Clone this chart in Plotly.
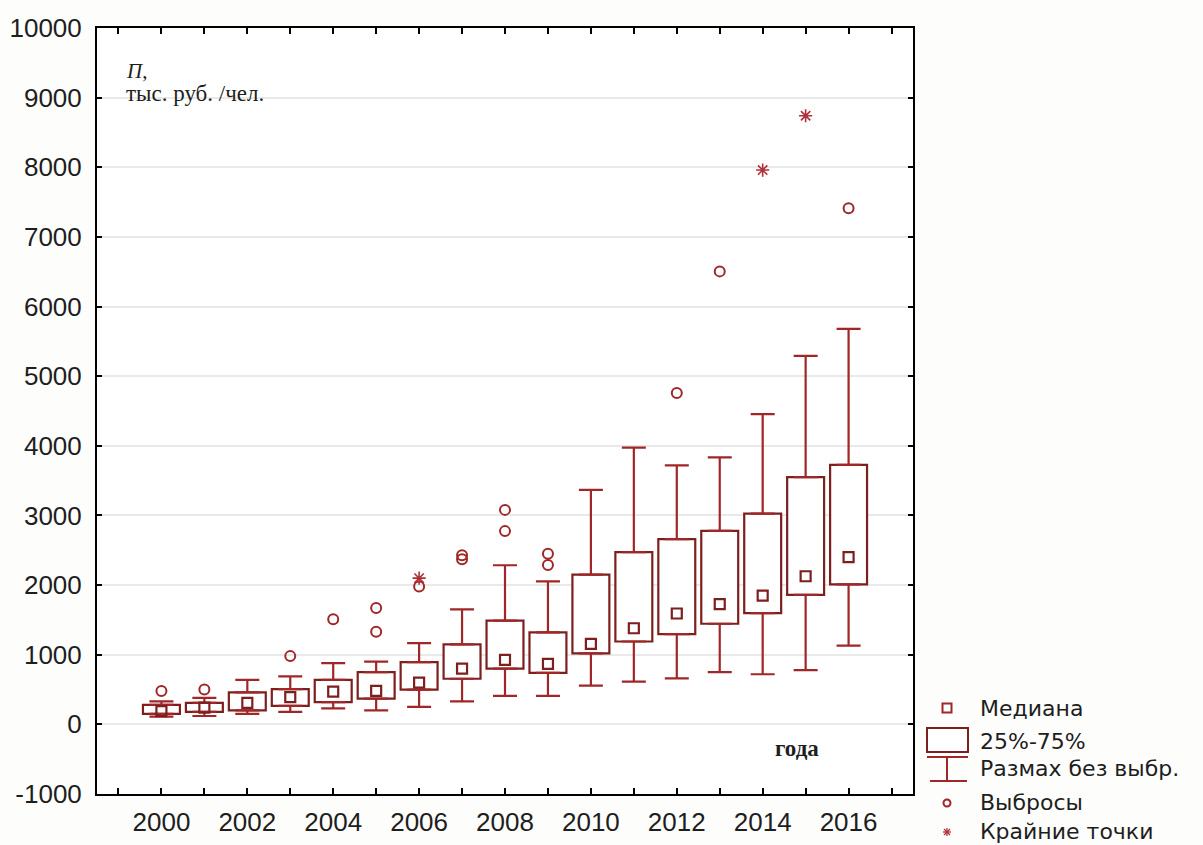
import plotly.graph_objects as go

# Box-plot statistics per year (thousand roubles per person)
years = list(range(2000, 2017))
whisker_low = [110, 120, 150, 180, 230, 200, 250, 330, 410, 410, 555, 615, 660, 750, 720, 780, 1130]
quart1 = [150, 180, 200, 265, 320, 370, 500, 655, 800, 740, 1020, 1190, 1295, 1445, 1598, 1860, 2010]
medians = [190, 240, 310, 390, 470, 480, 600, 800, 925, 870, 1155, 1380, 1592, 1728, 1850, 2127, 2402]
quart3 = [280, 310, 460, 505, 640, 750, 895, 1150, 1490, 1322, 2150, 2473, 2660, 2778, 3026, 3550, 3725]
whisker_high = [330, 380, 640, 690, 880, 900, 1168, 1650, 2285, 2052, 3366, 3973, 3720, 3834, 4455, 5292, 5680]

# Outliers and extreme points
outlier_years = [2000, 2001, 2003, 2004, 2005, 2005, 2006, 2007, 2007, 2008, 2008, 2009, 2009, 2012, 2013, 2016]
outlier_values = [480, 500, 980, 1510, 1670, 1330, 1980, 2430, 2370, 3080, 2775, 2450, 2290, 4757, 6505, 7410]
extreme_years = [2006, 2014, 2015]
extreme_values = [2100, 7960, 8740]

# Axis ticks
x_ticks = list(range(1999, 2018))
x_tick_labels = [str(y) if (y % 2 == 0 and 2000 <= y <= 2016) else "" for y in x_ticks]
y_ticks = list(range(-1000, 10001, 1000))
y_tick_labels = [str(v) for v in y_ticks]

legend_labels = ["Медиана", "25%-75%", "Размах без выбр.", "Выбросы", "Крайние точки"]

RED = "#a02628"
BOX_LINE = "#7e1f1f"
TEXT = "#1e1e1e"
NARROW = "Liberation Sans Narrow, Arial Narrow, Liberation Sans, sans-serif"
WIDE = "DejaVu Sans, Verdana, sans-serif"
SERIF = "Liberation Serif, Times New Roman, serif"

W, H = 1203, 845
L, R, T, B = 97, 290, 28, 51
PW, PH = W - L - R, H - T - B


def px(x):
    return (x - L) / PW


def py(y):
    return (H - B - y) / PH


fig = go.Figure()

# 25%-75% boxes
fig.add_trace(go.Bar(
    x=years,
    y=[q3 - q1 for q1, q3 in zip(quart1, quart3)],
    base=quart1,
    width=0.86,
    marker=dict(color="white", line=dict(color=BOX_LINE, width=2.2)),
    showlegend=False,
    hoverinfo="skip",
))

# Upper whiskers
fig.add_trace(go.Scatter(
    x=years, y=quart3, mode="markers",
    marker=dict(color="rgba(0,0,0,0)", size=1),
    error_y=dict(type="data", symmetric=False,
                 array=[h - q3 for h, q3 in zip(whisker_high, quart3)],
                 arrayminus=[0] * len(years),
                 width=12, thickness=2.2, color=RED),
    showlegend=False, hoverinfo="skip",
))

# Lower whiskers
fig.add_trace(go.Scatter(
    x=years, y=quart1, mode="markers",
    marker=dict(color="rgba(0,0,0,0)", size=1),
    error_y=dict(type="data", symmetric=False,
                 array=[0] * len(years),
                 arrayminus=[q1 - lo for q1, lo in zip(quart1, whisker_low)],
                 width=12, thickness=2.2, color=RED),
    showlegend=False, hoverinfo="skip",
))

# Medians
fig.add_trace(go.Scatter(
    x=years, y=medians, mode="markers",
    marker=dict(symbol="square-open", size=10, color=BOX_LINE, line=dict(width=2.2)),
    showlegend=False,
))

# Outliers
fig.add_trace(go.Scatter(
    x=outlier_years, y=outlier_values, mode="markers",
    marker=dict(symbol="circle-open", size=10, color=RED, line=dict(width=2)),
    showlegend=False,
))

# Extreme points
fig.add_trace(go.Scatter(
    x=extreme_years, y=extreme_values, mode="markers",
    marker=dict(symbol="asterisk-open", size=11, color="#b0303a", line=dict(width=1.6)),
    showlegend=False,
))

shapes = []
annotations = []

# Legend drawn beside the plot area
sym_x = 947
rows_y = [708, 741, 768, 803, 832]
# median square
shapes.append(dict(type="rect", xref="paper", yref="paper",
                   x0=px(sym_x - 4.5), x1=px(sym_x + 4.5), y0=py(rows_y[0] + 4.5), y1=py(rows_y[0] - 4.5),
                   line=dict(color=RED, width=2), fillcolor="white"))
# box
shapes.append(dict(type="rect", xref="paper", yref="paper",
                   x0=px(927), x1=px(968), y0=py(752), y1=py(728),
                   line=dict(color=BOX_LINE, width=2), fillcolor="white"))
# whisker
for x0, x1, y0, y1 in [(927, 968, 757, 757), (sym_x, sym_x, 757, 781), (930, 967, 781, 781)]:
    shapes.append(dict(type="line", xref="paper", yref="paper",
                       x0=px(x0), x1=px(x1), y0=py(y0), y1=py(y1),
                       line=dict(color=RED, width=2)))
# outlier circle
shapes.append(dict(type="circle", xref="paper", yref="paper",
                   x0=px(sym_x - 3.5), x1=px(sym_x + 3.5), y0=py(rows_y[3] + 3.5), y1=py(rows_y[3] - 3.5),
                   line=dict(color=RED, width=2)))
# asterisk
cx, cy, r = sym_x, rows_y[4], 4
for dx0, dy0, dx1, dy1 in [(-r, 0, r, 0), (0, -r, 0, r), (-3, -3, 3, 3), (-3, 3, 3, -3)]:
    shapes.append(dict(type="line", xref="paper", yref="paper",
                       x0=px(cx + dx0), x1=px(cx + dx1), y0=py(cy + dy0), y1=py(cy + dy1),
                       line=dict(color="#b0303a", width=1.3)))

for label, yy in zip(legend_labels, rows_y):
    annotations.append(dict(text=label, xref="paper", yref="paper",
                            x=px(978), y=py(yy), xanchor="left", yanchor="middle",
                            showarrow=False, font=dict(family=WIDE, size=22, color=TEXT)))

# Axis captions inside the plot
annotations.append(dict(text="<i>П</i>,", xref="paper", yref="paper",
                        x=px(124), y=py(71), xanchor="left", yanchor="middle",
                        showarrow=False, font=dict(family=SERIF, size=21, color=TEXT)))
annotations.append(dict(text="тыс. руб. /чел.", xref="paper", yref="paper",
                        x=px(124), y=py(94), xanchor="left", yanchor="middle",
                        showarrow=False, font=dict(family=SERIF, size=23, color=TEXT)))
annotations.append(dict(text="<b>года</b>", xref="paper", yref="paper",
                        x=px(797), y=py(748), xanchor="center", yanchor="middle",
                        showarrow=False, font=dict(family=SERIF, size=23, color=TEXT)))

fig.update_layout(
    width=W, height=H,
    margin=dict(l=L, r=R, t=T, b=B, pad=0, autoexpand=False),
    paper_bgcolor="#fdfdfb",
    plot_bgcolor="white",
    showlegend=False,
    shapes=shapes,
    annotations=annotations,
    xaxis=dict(
        automargin=False,
        range=[1998.5, 2017.5],
        tickmode="array", tickvals=x_ticks, ticktext=x_tick_labels,
        ticks="inside", ticklen=6, tickwidth=1.5, tickcolor="black",
        showline=True, linecolor="black", linewidth=2, mirror="ticks",
        showgrid=False, zeroline=False,
        tickfont=dict(family=NARROW, size=26, color=TEXT),
        ticklabelstandoff=4,
    ),
    yaxis=dict(
        automargin=False,
        range=[-1000, 10000],
        tickmode="array", tickvals=y_ticks, ticktext=y_tick_labels,
        ticks="inside", ticklen=5, tickwidth=1.5, tickcolor="black",
        showline=True, linecolor="black", linewidth=2, mirror="ticks",
        showgrid=True, gridcolor="#e9e9e9", gridwidth=1.5, zeroline=False,
        tickfont=dict(family=NARROW, size=26, color=TEXT),
        ticklabelstandoff=8,
    ),
)

fig.write_html("out.html")
